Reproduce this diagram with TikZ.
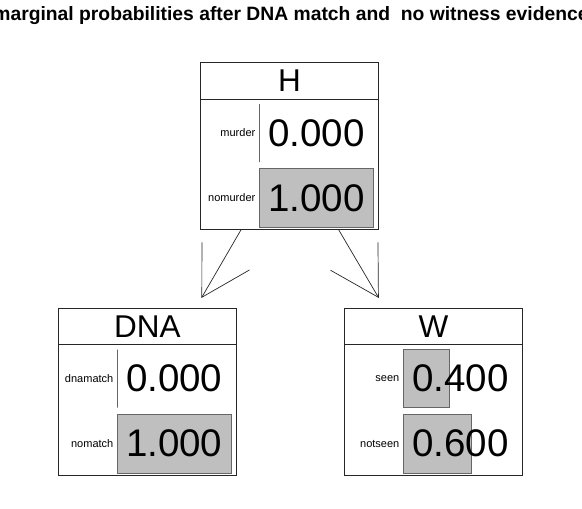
\documentclass[tikz,border=0pt]{standalone}
\usepackage{fontspec}
\setmainfont{Liberation Sans}
\usetikzlibrary{arrows.meta}
\tikzset{
  box/.style={draw=black!85, line width=0.8pt, rectangle, minimum width=178pt, minimum height=167pt, inner sep=0pt},
  hline/.style={draw=black!85, line width=0.8pt},
  bar/.style={fill=gray!50, draw=black!60, line width=0.7pt},
  hdr/.style={font=\fontsize{31.5}{31.5}\selectfont, inner sep=0pt},
  num/.style={font=\fontsize{38.5}{38.5}\selectfont, inner sep=0pt},
  lab/.style={font=\fontsize{11}{11}\selectfont, inner sep=0pt, anchor=east},
  ttl/.style={font=\fontsize{19.3}{19.3}\selectfont\bfseries, inner sep=0pt},
  conn/.style={draw=black!85, line width=0.7pt, -{Straight Barb[length=47.6pt,width=55pt]}, shorten >=11.2pt},
}
% name, left x, top y, title, label1, label2, value1, value2
\newcommand\bnnode[8]{%
  \node[box] (#1) at ({#2+89},{#3+83.5}) {};
  \node[hdr] (#1t) at ({#2+89},{#3+18.25}) {#4};
  \draw[hline] ({#2},{#3+36.5}) -- ({#2+178},{#3+36.5});
  \filldraw[bar] ({#2+59},{#3+41.5}) rectangle ({#2+59+113.5*#7},{#3+99.5});
  \filldraw[bar] ({#2+59},{#3+106}) rectangle ({#2+59+113.5*#8},{#3+165});
  \node[lab] (#1a) at ({#2+55},{#3+70.5}) {#5};
  \node[lab] (#1b) at ({#2+55},{#3+135.5}) {#6};
  \node[num] (#1p) at ({#2+115.75},{#3+70.5}) {#7};
  \node[num] (#1q) at ({#2+115.75},{#3+135.5}) {#8};
}
\begin{document}
\begin{tikzpicture}[x=1pt,y=-1pt]
  \useasboundingbox (0,0) rectangle (582,509);
  \node[ttl] (T) at (291,16) {marginal probabilities after DNA match and\ \ no witness evidence};
  \bnnode{H}{200.5}{62.5}{H}{murder}{nomurder}{0.000}{1.000}
  \bnnode{DNA}{58.5}{308}{DNA}{dnamatch}{nomatch}{0.000}{1.000}
  \bnnode{W}{344.5}{308}{W}{seen}{notseen}{0.400}{0.600}
  \draw[conn] (H) -- (DNA);
  \draw[conn] (H) -- (W);
\end{tikzpicture}
\end{document}
